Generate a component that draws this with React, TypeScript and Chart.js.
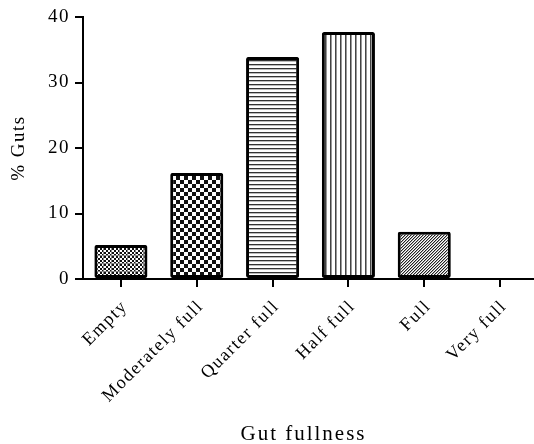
import { useEffect, useRef } from "react";
import { Chart, registerables } from "chart.js";

Chart.register(...registerables);

const categories = ["Empty", "Moderately full", "Quarter full", "Half full", "Full", "Very full"];
const percentGuts = [5.2, 16.2, 33.9, 37.7, 7.2, 0];
const patternKinds = ["fineChecker", "checker", "hlines", "vlines", "diag", "none"];
const yTickValues = [0, 10, 20, 30, 40];
const yTitle = "% Guts";
const xTitle = "Gut fullness";

const FONT = "'Liberation Serif', 'Times New Roman', serif";

function makePattern(kind: string, ctx: CanvasRenderingContext2D): CanvasPattern | string {
  const c = document.createElement("canvas");
  let w = 8, h = 8;
  if (kind === "hlines") { w = 4; h = 4; }
  if (kind === "vlines") { w = 5; h = 5; }
  if (kind === "diag") { w = 3; h = 3; }
  if (kind === "none") return "#ffffff";
  c.width = w; c.height = h;
  const g = c.getContext("2d")!;
  g.fillStyle = "#ffffff";
  g.fillRect(0, 0, w, h);
  for (let y = 0; y < h; y++) {
    for (let x = 0; x < w; x++) {
      let col: string | null = null;
      if (kind === "fineChecker") {
        if (((Math.floor(x / 2) + Math.floor(y / 2)) % 2) === 0) col = "#111111";
        if (x === 7 || y === 7) col = "#888888";
      } else if (kind === "checker") {
        if (((Math.floor(x / 4) + Math.floor(y / 4)) % 2) === 0) col = "#111111";
      } else if (kind === "hlines") {
        if (y === 0) col = "#333333";
        else if (y === 1) col = "#bbbbbb";
      } else if (kind === "vlines") {
        if (x === 0) col = "#444444";
        else if (x === 1) col = "#999999";
      } else if (kind === "diag") {
        const m = (x + y) % 3;
        if (m === 0) col = "#222222";
        else if (m === 1) col = "#aaaaaa";
      }
      if (col) {
        g.fillStyle = col;
        g.fillRect(x, y, 1, 1);
      }
    }
  }
  return ctx.createPattern(c, "repeat")!;
}

export default function App() {
  const ref = useRef<HTMLCanvasElement | null>(null);

  useEffect(() => {
    const canvas = ref.current!;
    const ctx = canvas.getContext("2d")!;
    const fills = patternKinds.map((k) => makePattern(k, ctx));

    const spacingPlugin = {
      id: "spacing",
      beforeUpdate(chart: any) {
        chart.ctx.letterSpacing = "1.5px";
      },
      beforeDraw(chart: any) {
        chart.ctx.letterSpacing = "1.5px";
      },
    };

    const xTitlePlugin = {
      id: "xTitle",
      afterDraw(chart: any) {
        const c = chart.ctx;
        const xs = chart.scales.x;
        c.save();
        c.letterSpacing = "2px";
        c.font = `21px ${FONT}`;
        c.fillStyle = "#000";
        c.textAlign = "center";
        c.textBaseline = "middle";
        c.fillText(xTitle, (xs.left + xs.right) / 2 - 7, xs.bottom - 10);
        c.restore();
      },
    };

    const chart = new Chart(canvas, {
      type: "bar",
      data: {
        labels: categories,
        datasets: [
          {
            data: percentGuts,
            backgroundColor: fills as any,
            borderColor: "#000000",
            borderWidth: percentGuts.map((v) => (v > 0 ? 3 : 0)),
            borderRadius: 2,
            borderSkipped: false,
            barPercentage: 0.7,
            categoryPercentage: 1,
          },
        ],
      },
      options: {
        responsive: false,
        animation: false,
        devicePixelRatio: 1,
        layout: { padding: { top: 17, right: 0, bottom: 0, left: 0 } },
        plugins: {
          legend: { display: false },
          tooltip: { enabled: false },
          title: { display: false },
        },
        scales: {
          x: {
            offset: true,
            afterFit(scale: any) {
              scale.height = 165;
            },
            grid: {
              display: true,
              offset: false,
              drawOnChartArea: false,
              drawTicks: true,
              tickLength: 8,
              lineWidth: 2,
              color: "#000",
            },
            border: { display: true, color: "#000", width: 2 },
            ticks: {
              autoSkip: false,
              minRotation: 45,
              maxRotation: 45,
              padding: 9,
              labelOffset: 4,
              color: "#000",
              font: { family: FONT, size: 18 },
            },
          },
          y: {
            min: 0,
            max: 40,
            afterFit(scale: any) {
              scale.width = 83;
            },
            afterBuildTicks(scale: any) {
              scale.ticks = yTickValues.map((v) => ({ value: v }));
            },
            grid: {
              display: true,
              drawOnChartArea: false,
              drawTicks: true,
              tickLength: 8,
              lineWidth: 2,
              color: "#000",
            },
            border: { display: true, color: "#000", width: 2 },
            ticks: {
              padding: 5,
              color: "#000",
              font: { family: FONT, size: 19 },
            },
            title: {
              display: true,
              text: yTitle,
              color: "#000",
              font: { family: FONT, size: 19, lineHeight: 1 },
              padding: { top: 10, bottom: 0 },
            },
          },
        },
      },
      plugins: [spacingPlugin, xTitlePlugin],
    });

    return () => chart.destroy();
  }, []);

  return (
    <div style={{ position: "fixed", left: 0, top: 0, width: 534, height: 444, overflow: "hidden", background: "#fff" }}>
      <canvas ref={ref} width={538} height={444} style={{ width: 538, height: 444, display: "block" }} />
    </div>
  );
}
